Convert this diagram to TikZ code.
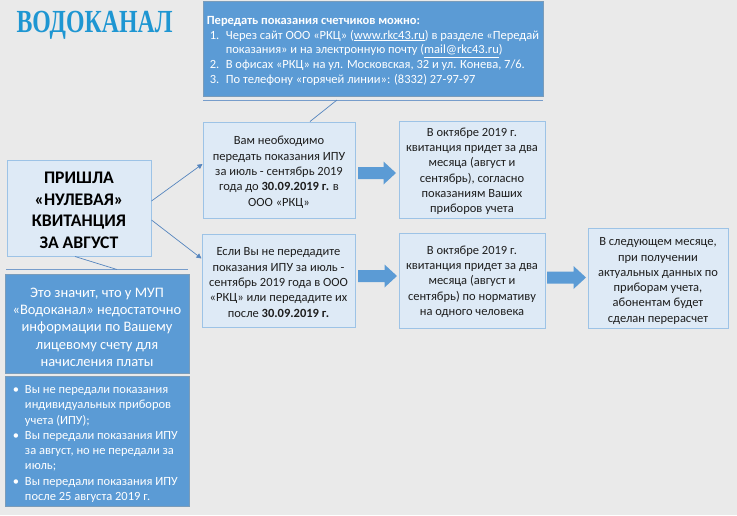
\documentclass[tikz,border=0pt]{standalone}
\usepackage{fontspec}
\setmainfont{Carlito}
\newfontfamily\logofont{Liberation Serif}
\usetikzlibrary{arrows.meta,calc}
\definecolor{bgc}{HTML}{EAEAEA}
\definecolor{lightb}{HTML}{DEEAF6}
\definecolor{edgeb}{HTML}{9DC3E6}
\definecolor{darkb}{HTML}{5B9BD5}
\definecolor{darke}{HTML}{41719C}
\definecolor{conn}{HTML}{5585BE}
\definecolor{logoc}{HTML}{1E96D2}
\definecolor{txt}{HTML}{1E1E1E}
\newcommand{\lowered}[1]{\rule{0pt}{\dimexpr 9pt+2\dimexpr #1pt\relax\relax}}
\newcommand{\bulletline}[1]{\makebox[16pt][l]{\hspace*{4pt}•}\makebox[160pt][l]{#1}}
\newcommand{\blockarrow}[3]{% x-start, x-end, y
  \fill[darkb] (#1,#3-6) -- (#2-12.5,#3-6) -- (#2-12.5,#3-11.5) -- (#2,#3) -- (#2-12.5,#3+11.5) -- (#2-12.5,#3+6) -- (#1,#3+6) -- cycle;}
\tikzset{
  x=1pt,y=-1pt,
  lightbox/.style={draw=edgeb,line width=1pt,fill=lightb,inner sep=0pt,align=center,text=txt,
    font=\fontsize{12.5}{15.3}\selectfont},
  darkbox/.style={draw=darke!70!white,line width=.8pt,fill=darkb,inner sep=0pt,text=white},
  link/.style={draw=conn,line width=.7pt},
  linkarrow/.style={link,-{Triangle[length=5pt,width=5pt]}},
  rule/.style={draw=conn!80!white,line width=1pt},
}
\begin{document}
\begin{tikzpicture}
\useasboundingbox[fill=bgc] (0,0) rectangle (737,515);
\node[inner sep=0pt,text=logoc,font=\logofont\bfseries\fontsize{28}{28}\selectfont] (logo) at (94.5,25) {\scalebox{.85}[1.15]{ВОДОКАНАЛ}};

\node[darkbox,minimum width=340pt,minimum height=95pt,align=left,font=\fontsize{12.5}{14.9}\selectfont] (top) at (373,48.5) {%
\lowered{2}\textbf{Передать показания счетчиков можно:}\\
\hspace*{3pt}\makebox[16pt][l]{1.}Через сайт ООО «РКЦ» (\underline{www.rkc43.ru}) в разделе «Передай\\
\hspace*{19pt}показания» и на электронную почту (\underline{mail@rkc43.ru})\\
\hspace*{3pt}\makebox[16pt][l]{2.}В офисах «РКЦ» на ул. Московская, 32 и ул. Конева, 7/6.\\
\hspace*{3pt}\makebox[16pt][l]{3.}По телефону «горячей линии»: (8332) 27-97-97};
\coordinate (toprulel) at (203,100);
\coordinate (topruler) at (543,100);
\draw[rule] (toprulel) -- (topruler);
\coordinate (toptick) at (337,100);

\node[lightbox,minimum width=152pt,minimum height=96pt] (b1) at (279,170) {\lowered{2}Вам необходимо\\передать показания ИПУ\\за июль - сентябрь 2019\\года до \textbf{30.09.2019 г.} в\\ООО «РКЦ»};
\node[lightbox,minimum width=153pt,minimum height=93pt] (b2) at (278.5,280.5) {\lowered{1.5}Если Вы не передадите\\показания ИПУ за июль -\\сентябрь 2019 года в ООО\\«РКЦ» или передадите их\\после \textbf{30.09.2019 г.}};
\node[lightbox,minimum width=146pt,minimum height=97pt] (r1) at (472,169.5) {\lowered{1.5}В октябре 2019 г.\\квитанция придет за два\\месяца (август и\\сентябрь), согласно\\показаниям Ваших\\приборов учета};
\node[lightbox,minimum width=146pt,minimum height=95pt] (r2) at (472,280.5) {\lowered{1}В октябре 2019 г.\\квитанция придет за два\\месяца (август и\\сентябрь) по нормативу\\на одного человека};
\node[lightbox,minimum width=140pt,minimum height=100pt] (r3) at (658,278) {\lowered{2.5}В следующем месяце,\\при получении\\актуальных данных по\\приборам учета,\\абонентам будет\\сделан перерасчет};

\node[lightbox,minimum width=144pt,minimum height=96pt,text=black,font=\bfseries\fontsize{17.7}{21.7}\selectfont] (left) at (79,208) {\lowered{3.5}ПРИШЛА\\«НУЛЕВАЯ»\\КВИТАНЦИЯ\\ЗА АВГУСТ};

\coordinate (leftrulel) at (6,269.5);
\coordinate (leftruler) at (188,269.5);
\draw[rule] (leftrulel) -- (leftruler);
\coordinate (lefttick) at (117,269.5);

\node[darkbox,minimum width=184pt,minimum height=99pt,align=center,font=\fontsize{14.5}{17.4}\selectfont] (mean) at (97,323.5) {\lowered{4}Это значит, что у МУП\\«Водоканал» недостаточно\\информации по Вашему\\лицевому счету для\\начисления платы};
\node[darkbox,minimum width=184pt,minimum height=130pt,align=left,font=\fontsize{12.5}{15.3}\selectfont] (why) at (97,441) {%
\lowered{2.5}\bulletline{Вы не передали показания}\\
\hspace*{16pt}индивидуальных приборов\\
\hspace*{16pt}учета (ИПУ);\\
\bulletline{Вы передали показания ИПУ}\\
\hspace*{16pt}за август, но не передали за\\
\hspace*{16pt}июль;\\
\bulletline{Вы передали показания ИПУ}\\
\hspace*{16pt}после 25 августа 2019 г.};

\draw[link] (toptick) -- ([xshift=31pt]b1.north);
\draw[link] ([xshift=-4pt]left.south) -- (lefttick);
\draw[linkarrow] ([yshift=7pt]left.east) -- ([yshift=6pt]b1.west);
\draw[linkarrow] ([yshift=-12pt]left.east) -- ([yshift=22pt]b2.west);

\blockarrow{358}{396}{173}
\blockarrow{358}{397}{276}
\blockarrow{547}{586}{277.5}
\end{tikzpicture}
\end{document}
